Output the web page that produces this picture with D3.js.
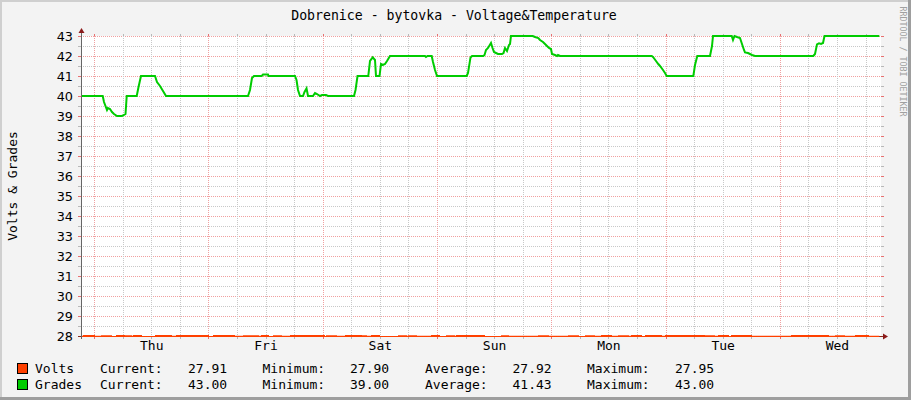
<!DOCTYPE html>
<html><head><meta charset="utf-8">
<script src="https://cdn.jsdelivr.net/npm/d3@7"></script>
<style>html,body{margin:0;padding:0;background:#f3f3f3;} svg{display:block}</style>
</head><body><svg id="c" width="911" height="400"></svg>
<script>
// ---------- data ----------
const title = "Dobrenice - bytovka - Voltage&Temperature";
const yLabel = "Volts & Grades";
const credit = "RRDTOOL / TOBI OETIKER";
const dayLabels = ["Thu", "Fri", "Sat", "Sun", "Mon", "Tue", "Wed"];
const yTicks = [28, 29, 30, 31, 32, 33, 34, 35, 36, 37, 38, 39, 40, 41, 42, 43];
const yMinorTicks = [28.5, 29.5, 30.5, 31.5, 32.5, 33.5, 34.5, 35.5, 36.5, 37.5, 38.5, 39.5, 40.5, 41.5, 42.5];
const spanHours = 168;          // one week
const firstMidnight = 2.75;     // hours from the start of the graph to Thu 00:00

// Grades: [hour, value]
const grades = [
  [0, 40], [4.56, 40], [4.83, 39.7], [5.46, 39.3], [5.67, 39.4], [6.09, 39.35], [6.51, 39.2], [6.93, 39.1],
  [7.56, 39.0], [8.61, 39.0], [9.03, 39.05], [9.35, 39.1], [9.6, 40], [11.7, 40], [12.08, 40.45], [12.6, 41],
  [15.54, 41], [15.96, 40.7], [16.59, 40.5], [17.22, 40.25], [17.85, 40], [35.07, 40], [35.49, 40.3],
  [35.91, 40.9], [36.33, 41], [37.95, 41], [38.22, 41.07], [39.27, 41.07], [39.38, 41], [44.94, 41],
  [45.26, 40.8], [45.57, 40.3], [45.99, 40], [46.62, 40], [46.94, 40.2], [47.36, 40.38], [47.67, 40],
  [48.72, 40], [49.14, 40.15], [49.56, 40.1], [50.19, 40], [50.61, 40.05], [51.45, 40.05], [51.87, 40],
  [57.33, 40], [57.65, 40.3], [58.07, 41], [60.33, 41], [60.69, 41.75], [61.26, 41.93], [61.74, 41.8],
  [61.95, 41.0], [62.69, 41.0], [63.0, 41.6], [63.42, 41.55], [63.84, 41.6], [64.26, 41.75], [64.89, 42],
  [72.24, 42], [72.45, 41.95], [72.77, 42], [73.65, 42], [73.92, 41.7], [74.34, 41.3], [74.76, 41],
  [81.0, 41], [81.27, 41.15], [81.8, 41.93], [82.11, 42], [84.48, 42], [84.74, 42.05], [85.05, 42.3],
  [85.47, 42.4], [86.1, 42.65], [86.42, 42.4], [86.73, 42.2], [87.15, 42.15], [87.57, 42.1], [88.41, 42.1],
  [88.73, 42.15], [89.04, 42.4], [89.46, 42.25], [89.88, 42.55], [90.09, 42.6], [90.3, 43], [94.86, 43],
  [95.34, 42.95], [96.04, 42.9], [96.39, 42.8], [97.02, 42.7], [97.44, 42.6], [97.86, 42.5], [98.28, 42.4],
  [98.7, 42.35], [98.91, 42.1], [99.54, 42.05], [99.96, 42.0], [100.17, 42.05], [100.59, 42], [119.85, 42],
  [120.12, 41.95], [120.75, 41.75], [121.23, 41.6], [121.59, 41.5], [122.22, 41.3], [122.64, 41.15],
  [123.0, 41], [128.59, 41], [128.94, 41.55], [129.42, 42], [132.09, 42], [132.51, 42.5], [132.72, 43],
  [136.65, 43], [136.92, 42.8], [137.24, 43], [137.76, 42.95], [138.39, 42.9], [138.81, 42.6], [139.23, 42.3],
  [139.44, 42.18], [140.07, 42.15], [140.49, 42.1], [140.91, 42.05], [141.54, 42], [153.78, 42],
  [154.14, 42.1], [154.56, 42.58], [154.98, 42.63], [155.4, 42.6], [155.82, 42.65], [156.14, 43], [167.64, 43]
];

// Volts: [hour, value] (step series, below the 28 axis minimum)
const volts = [
  [0, 27.91], [0.84, 27.95], [2.52, 27.91], [4.62, 27.94], [6.09, 27.90], [7.77, 27.95], [8.82, 27.91],
  [9.66, 27.94], [10.29, 27.91], [11.34, 27.95], [12.39, 27.90], [15.96, 27.95], [18.69, 27.91],
  [20.37, 27.95], [22.5, 27.91], [23.1, 27.95], [26.46, 27.90], [28.14, 27.95], [31.92, 27.91],
  [34.44, 27.94], [36.96, 27.91], [38.22, 27.95], [39.06, 27.90], [40.74, 27.94], [41.79, 27.91],
  [44.31, 27.95], [45.99, 27.91], [46.62, 27.95], [50.82, 27.90], [51.87, 27.94], [53.34, 27.91],
  [55.86, 27.95], [58.59, 27.91], [59.01, 27.94], [59.64, 27.91], [61.32, 27.95], [62.37, 27.90],
  [66.99, 27.94], [68.04, 27.91], [69.09, 27.94], [70.14, 27.91], [73.92, 27.95], [74.97, 27.90],
  [77.07, 27.94], [78.12, 27.91], [79.17, 27.95], [81.69, 27.91], [82.32, 27.95], [84.42, 27.90],
  [88.62, 27.94], [89.46, 27.91], [96.39, 27.94], [97.86, 27.91], [102.69, 27.94], [104.16, 27.90],
  [106.26, 27.94], [107.52, 27.91], [109.62, 27.95], [111.09, 27.91], [113.19, 27.94], [114.66, 27.91],
  [115.92, 27.95], [117.39, 27.90], [118.86, 27.95], [121.59, 27.91], [123.06, 27.95], [130.62, 27.91],
  [131.46, 27.94], [132.72, 27.91], [134.19, 27.95], [135.66, 27.90], [136.92, 27.95], [140.49, 27.91],
  [149.52, 27.95], [156.66, 27.91], [158.76, 27.94], [160.02, 27.91], [162.96, 27.95], [165.06, 27.91],
  [167.64, 27.91]
];

const seriesNames = ["Volts", "Grades"];
const seriesColors = ["#FF4000", "#00CC00"];
const currentVals = ["27.91", "43.00"];
const minimumVals = ["27.90", "39.00"];
const averageVals = ["27.92", "41.43"];
const maximumVals = ["27.95", "43.00"];

// ---------- layout ----------
const W = 911, H = 400;
const L = 81, R = 881, T = 36, B = 336;
const mono = "'DejaVu Sans Mono', monospace";
const sans = "'DejaVu Sans', sans-serif";

const svg = d3.select("#c");
const x = d3.scaleLinear().domain([0, spanHours]).range([L, R]);
const y = d3.scaleLinear().domain([28, 43]).range([B, T]);

// background + frame
svg.append("rect").attr("width", W).attr("height", H).attr("fill", "#F3F3F3");
svg.append("rect").attr("x", 0).attr("y", 0).attr("width", W).attr("height", 2).attr("fill", "#CFCFCF");
svg.append("rect").attr("x", 0).attr("y", 0).attr("width", 2).attr("height", H).attr("fill", "#CFCFCF");
svg.append("rect").attr("x", W - 3).attr("y", 0).attr("width", 3).attr("height", H).attr("fill", "#9E9E9E");
svg.append("rect").attr("x", 0).attr("y", H - 3).attr("width", W).attr("height", 3).attr("fill", "#9E9E9E");

// canvas
svg.append("rect").attr("x", L).attr("y", T).attr("width", R - L).attr("height", B - T).attr("fill", "#FFFFFF");

// grid
const grid = svg.append("g");
const minorCol = "#C8C8C8", majorCol = "#F0A0A0";
const minorTick = "#B8B8B8", majorTick = "#E87070";
const px = v => Math.round(v) + 0.5;

function hLine(v, col, tcol) {
  const yy = px(y(v));
  grid.append("line").attr("x1", L).attr("x2", R).attr("y1", yy).attr("y2", yy)
    .attr("stroke", col).attr("stroke-dasharray", "1,1");
  grid.append("line").attr("x1", L - 3).attr("x2", L).attr("y1", yy).attr("y2", yy).attr("stroke", tcol);
  grid.append("line").attr("x1", R).attr("x2", R + 3).attr("y1", yy).attr("y2", yy).attr("stroke", tcol);
}
function vLine(h, col, tcol) {
  const xx = px(x(h));
  grid.append("line").attr("x1", xx).attr("x2", xx).attr("y1", T).attr("y2", B)
    .attr("stroke", col).attr("stroke-dasharray", "1,1");
  grid.append("line").attr("x1", xx).attr("x2", xx).attr("y1", B).attr("y2", B + 3).attr("stroke", tcol);
  grid.append("line").attr("x1", xx).attr("x2", xx).attr("y1", T - 2).attr("y2", T).attr("stroke", tcol);
}
yMinorTicks.forEach(v => hLine(v, minorCol, minorTick));
yTicks.forEach(v => { if (v > 28) hLine(v, majorCol, majorTick); });

const sixHourTicks = [], midnightTicks = [], noonTicks = [];
for (let h = firstMidnight; h < spanHours; h += 6) sixHourTicks.push(h);
for (let k = 0; k < dayLabels.length; k++) {
  midnightTicks.push(firstMidnight + 24 * k);
  noonTicks.push(firstMidnight + 12 + 24 * k);
}
sixHourTicks.forEach((h, i) => { if (i % 4 !== 0) vLine(h, minorCol, minorTick); });
midnightTicks.forEach(h => vLine(h, majorCol, majorTick));

// x axis line (under the data)
svg.append("line").attr("x1", L - 3).attr("x2", R + 3).attr("y1", B + 0.5).attr("y2", B + 0.5)
  .attr("stroke", "#8A2A1A");

// clip
const defs = svg.append("defs");
defs.append("clipPath").attr("id", "plotClip").append("rect")
  .attr("x", L).attr("y", T - 2).attr("width", R - L).attr("height", B - T + 3);

// grades line
svg.append("path").datum(grades)
  .attr("clip-path", "url(#plotClip)")
  .attr("fill", "none").attr("stroke", seriesColors[1]).attr("stroke-width", 2)
  .attr("stroke-linejoin", "miter")
  .attr("d", d3.line().x(d => x(d[0])).y(d => y(d[1])));

// volts line (values below axis minimum, clipped at the bottom edge)
svg.append("path").datum(volts)
  .attr("clip-path", "url(#plotClip)")
  .attr("fill", "none").attr("stroke", seriesColors[0]).attr("stroke-width", 4)
  .attr("d", d3.line().curve(d3.curveStepAfter).x(d => x(d[0])).y(d => y(d[1])));

// y axis line
svg.append("line").attr("x1", L + 0.5).attr("x2", L + 0.5).attr("y1", B + 3).attr("y2", T - 4)
  .attr("stroke", "#666666");

// arrows
svg.append("path").attr("d", `M${L - 2.5},${T - 3} L${L + 3.5},${T - 3} L${L + 0.5},${T - 8} Z`).attr("fill", "#8B1A1A");
svg.append("path").attr("d", `M${R + 2},${B - 2.5} L${R + 2},${B + 3.5} L${R + 7},${B + 0.5} Z`).attr("fill", "#8B1A1A");

// y tick labels
const yAxis = svg.append("g").attr("transform", `translate(${L},0)`)
  .call(d3.axisLeft(y).tickValues(yTicks).tickSize(0).tickPadding(8).tickFormat(d3.format("d")));
yAxis.select(".domain").remove();
yAxis.selectAll("text").attr("font-family", sans).attr("font-size", 12.8).attr("fill", "#000");

// x day labels
const xAxis = svg.append("g").attr("transform", `translate(0,${B})`)
  .call(d3.axisBottom(x).tickValues(noonTicks).tickSize(0).tickPadding(5).tickFormat((d, i) => dayLabels[i]));
xAxis.select(".domain").remove();
xAxis.selectAll("text").attr("font-family", mono).attr("font-size", 13).attr("fill", "#000");

// title
svg.append("text").attr("x", 454).attr("y", 19.5).attr("text-anchor", "middle")
  .attr("font-family", mono).attr("font-size", 13.2).attr("fill", "#000").text(title);

// y label
svg.append("text").attr("transform", `translate(16.5,${(T + B) / 2}) rotate(-90)`)
  .attr("text-anchor", "middle").attr("font-family", mono).attr("font-size", 13).attr("fill", "#000").text(yLabel);

// credit
svg.append("text").attr("transform", "translate(899.5,6.5) rotate(90)")
  .attr("font-family", mono).attr("font-size", 8.3).attr("fill", "#A0A0A0").text(credit);

// legend
const legendY = [373, 389];
seriesNames.forEach((name, i) => {
  const by = legendY[i];
  svg.append("rect").attr("x", 17.5).attr("y", by - 9.5).attr("width", 10).attr("height", 10)
    .attr("fill", seriesColors[i]).attr("stroke", "#000").attr("stroke-width", 1);
  const g = svg.append("g").attr("font-family", mono).attr("font-size", 13).attr("fill", "#000");
  const items = [
    [35, name], [100, "Current:"], [188, currentVals[i]], [262.5, "Minimum:"], [350, minimumVals[i]],
    [425, "Average:"], [512.5, averageVals[i]], [587, "Maximum:"], [675, maximumVals[i]]
  ];
  items.forEach(([xx, t]) => g.append("text").attr("x", xx).attr("y", by).text(t));
});
</script>
</body></html>
